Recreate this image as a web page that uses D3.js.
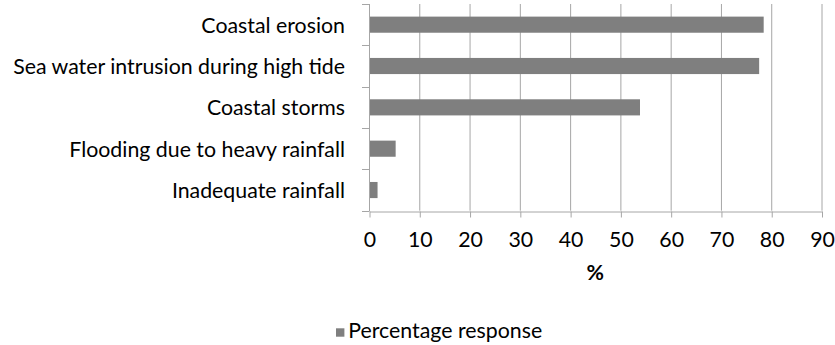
<!DOCTYPE html>
<html><head><meta charset="utf-8">
<script src="https://cdn.jsdelivr.net/npm/d3@7"></script>
<style>body{margin:0;background:#fff}svg{display:block}text{font-family:Lato,"Open Sans",sans-serif;fill:#000}</style>
</head><body><svg id="c" width="835" height="345"></svg>
<script>
const categories = ["Coastal erosion","Sea water intrusion during high tide","Coastal storms","Flooding due to heavy rainfall","Inadequate rainfall"];
const values = [78.5, 77.6, 53.9, 5.3, 1.7];
const xTicks = [0,10,20,30,40,50,60,70,80,90];
const seriesName = "Percentage response";
const axisTitle = "%";

const svg = d3.select("#c");
const L = 369, R = 821.5, T = 4, B = 210.7;
const x = d3.scaleLinear().domain([0,90]).range([L,R]);
const y = d3.scaleBand().domain(categories).range([T,B]).padding(0);
const grid = "#a6a6a6", barCol = "#7f7f7f";

// font fit
const probe = svg.append("text").style("font-size","20px").text(categories[1]);
const w20 = probe.node().getComputedTextLength(); probe.remove();
const fs = 20*332/w20;

// gridlines
svg.append("g").selectAll("line").data(xTicks.filter(d=>d>0)).join("line")
  .attr("x1",d=>x(d)+0.5).attr("x2",d=>x(d)+0.5).attr("y1",T).attr("y2",B)
  .attr("stroke",grid).attr("stroke-width",1);

// bars
const bh = y.bandwidth()*0.39;
svg.append("g").selectAll("rect").data(categories).join("rect")
  .attr("x",x(0)).attr("y",(d)=>y(d)+y.bandwidth()/2-bh/2)
  .attr("width",(d,i)=>x(values[i])-x(0)).attr("height",bh)
  .attr("fill",barCol);

// x axis
const xa = svg.append("g").attr("transform",`translate(0.5,${Math.round(B)+0.5})`)
  .call(d3.axisBottom(x).tickValues(xTicks).tickSize(6).tickPadding(14).tickSizeOuter(0));
xa.select(".domain").attr("stroke",grid);
xa.selectAll(".tick line").attr("stroke",grid);
xa.selectAll(".tick text").style("font-size",fs+"px").attr("fill","#000").attr("font-family","Lato");

// y axis line + boundary ticks
svg.append("line").attr("x1",L+0.5).attr("x2",L+0.5).attr("y1",T).attr("y2",Math.round(B)+0.5).attr("stroke",grid);
const bounds = categories.map(c=>y(c)).concat([B]);
svg.append("g").selectAll("line").data(bounds).join("line")
  .attr("x1",L-7).attr("x2",L).attr("y1",d=>Math.round(d)+0.5).attr("y2",d=>Math.round(d)+0.5).attr("stroke",grid);

// y labels
svg.append("g").selectAll("text").data(categories).join("text")
  .attr("x",345).attr("y",d=>y(d)+y.bandwidth()/2).attr("dy","0.37em")
  .attr("text-anchor","end").style("font-size",fs+"px").text(d=>d);

// x title
svg.append("text").attr("x",(L+R)/2).attr("y",280).attr("text-anchor","middle")
  .style("font-size",fs+"px").style("font-weight","bold").text(axisTitle);

// legend
svg.append("rect").attr("x",336).attr("y",328.3).attr("width",8.4).attr("height",8.4).attr("fill",barCol);
svg.append("text").attr("x",348.3).attr("y",338.3).style("font-size",fs+"px").text(seriesName);
</script></body></html>
